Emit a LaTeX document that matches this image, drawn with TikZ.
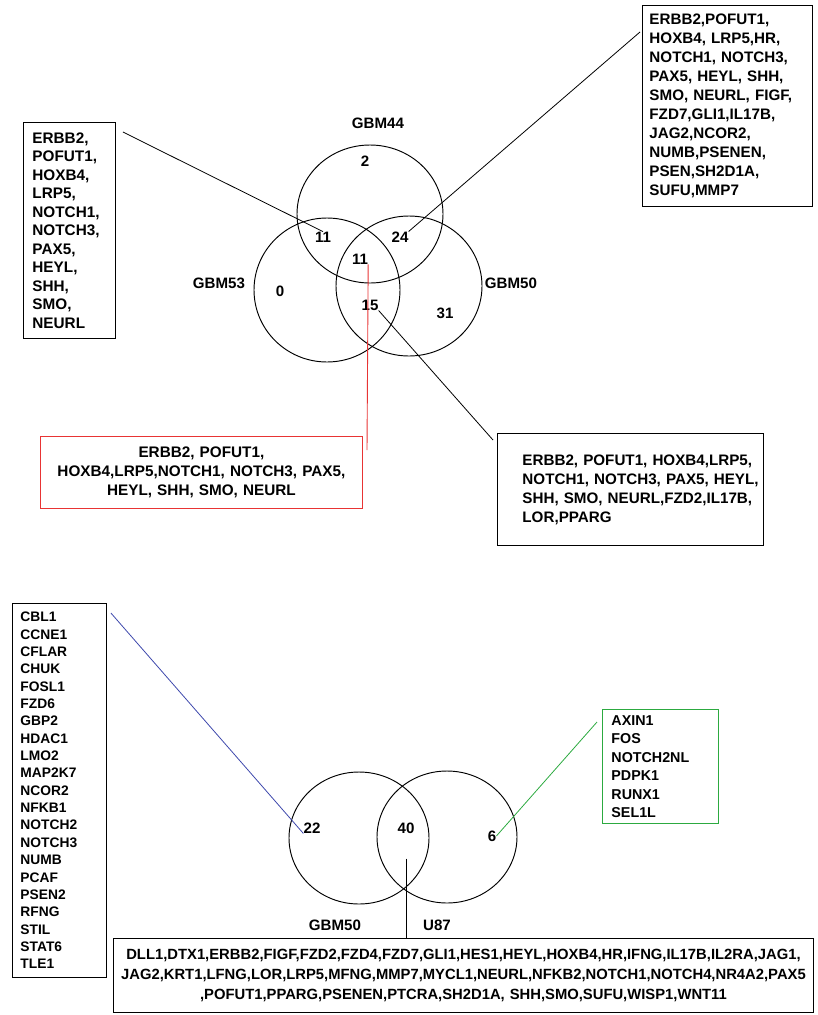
\documentclass[tikz,border=0pt]{standalone}
\usepackage{fontspec}
\setmainfont{Liberation Sans}
\usetikzlibrary{shapes.geometric}

\definecolor{vennred}{RGB}{232,52,52}
\definecolor{vennblue}{RGB}{62,72,172}
\definecolor{venngreen}{RGB}{44,170,64}
\newcommand{\genefont}[2]{\fontsize{#1}{#2}\selectfont\bfseries}

\tikzset{
  venn/.style={ellipse, draw, line width=0.95pt, inner sep=0pt},
  num/.style={inner sep=0pt},
  listbox/.style={draw, line width=0.9pt, inner sep=0pt, anchor=north west},
  genebox/.style={listbox, align=left, execute at begin node={\leftskip=#1}},
  midbox/.style={listbox, align=center},
  link/.style={line width=0.8pt},
}

\begin{document}
\begin{tikzpicture}[x=1pt, y=-1pt, font=\genefont{15.1}{18.5}]
\useasboundingbox (0,0) rectangle (817,1015);

% three sets
\node[venn, minimum width=146pt, minimum height=138pt] (g44) at (370,214) {};
\node[venn, minimum width=146pt, minimum height=144pt] (g53) at (327,290) {};
\node[venn, minimum width=146pt, minimum height=140pt] (g50) at (409,286) {};
\node (l44) at (378,123) {GBM44};
\node (l53) at (219,283) {GBM53};
\node (l50) at (511,283) {GBM50};
\node[num] (n2) at (365,161) {2};
\node[num] (n11l) at (323,237) {11};
\node[num] (n24) at (400,237) {24};
\node[num] (n11c) at (360,259) {11};
\node[num] (n0) at (280,291) {0};
\node[num] (n15) at (370,305) {15};
\node[num] (n31) at (445,313) {31};

\node[genebox=9pt, text width=92pt, minimum height=216pt, font=\genefont{15.3}{18.5}] (tlbox) at (23,122)
  {ERBB2,\\POFUT1,\\HOXB4,\\LRP5,\\NOTCH1,\\NOTCH3,\\PAX5,\\HEYL,\\SHH,\\SMO,\\NEURL};
\node[genebox=7pt, text width=170pt, minimum height=201pt,
  font=\genefont{15.2}{19}] (trbox) at (642,5)
  {ERBB2,POFUT1,\\HOXB4, LRP5,HR,\\NOTCH1, NOTCH3,\\PAX5, HEYL, SHH,\\SMO, NEURL, FIGF,\\
   FZD7,GLI1,IL17B,\\JAG2,NCOR2,\\NUMB,PSENEN,\\PSEN,SH2D1A,\\SUFU,MMP7};
\node[midbox, draw=vennred, text width=322pt, minimum height=72pt,
  font=\genefont{15.3}{19}] (redbox) at (40,436)
  {ERBB2, POFUT1,\\HOXB4,LRP5,NOTCH1, NOTCH3, PAX5,\\HEYL, SHH, SMO, NEURL};
\node[genebox=25pt, text width=266pt, minimum height=112pt,
  font=\genefont{15.2}{19}] (brbox) at (497,433)
  {ERBB2, POFUT1, HOXB4,LRP5,\\NOTCH1, NOTCH3, PAX5, HEYL,\\SHH, SMO, NEURL,FZD2,IL17B,\\LOR,PPARG};

\coordinate (redend) at (367,450);
\draw[link] ([xshift=7pt,yshift=-10pt]tlbox.north east) -- (n11l.north);
\draw[link] ([xshift=-2pt,yshift=-27pt]trbox.north west) -- (n24.north east);
\draw[link, vennred, line width=0.9pt] (n11c.south east) -- (redend);
\draw[link] (n15.south east) -- ([xshift=-4pt,yshift=-7pt]brbox.north west);

% two sets
\node[venn, minimum width=140pt, minimum height=132pt] (b50) at (359,838) {};
\node[venn, minimum width=140pt, minimum height=132pt] (u87) at (447,837) {};
\node (lb50) at (335,925) {GBM50};
\node (lu87) at (437,925) {U87};
\node[num] (n22) at (312,828) {22};
\node[num] (n40) at (406,828) {40};
\node[num] (n6) at (492,836) {6};

\node[genebox=8pt, text width=94pt, minimum height=374pt,
  font=\genefont{13.8}{17.35}] (bluebox) at (12,603)
  {CBL1\\CCNE1\\CFLAR\\CHUK\\FOSL1\\FZD6\\GBP2\\HDAC1\\LMO2\\MAP2K7\\NCOR2\\
   NFKB1\\NOTCH2\\NOTCH3\\NUMB\\PCAF\\PSEN2\\RFNG\\STIL\\STAT6\\TLE1};
\node[genebox=9pt, draw=venngreen, text width=116pt, minimum height=114pt,
  font=\genefont{14.3}{18.5}] (greenbox) at (602,709)
  {AXIN1\\FOS\\NOTCH2NL\\PDPK1\\RUNX1\\SEL1L};
\node[midbox, text width=700pt, minimum height=74pt,
  font=\genefont{14.8}{20}] (botbox) at (113,938)
  {DLL1,DTX1,ERBB2,FIGF,FZD2,FZD4,FZD7,GLI1,HES1,HEYL,HOXB4,HR,IFNG,IL17B,IL2RA,JAG1,\\
   JAG2,KRT1,LFNG,LOR,LRP5,MFNG,MMP7,MYCL1,NEURL,NFKB2,NOTCH1,NOTCH4,NR4A2,PAX5\\
   ,POFUT1,PPARG,PSENEN,PTCRA,SH2D1A, SHH,SMO,SUFU,WISP1,WNT11};

\draw[link, vennblue] ([xshift=4pt,yshift=-10pt]bluebox.north east) -- (n22.south west);
\draw[link, venngreen] ([xshift=-5pt,yshift=-13pt]greenbox.north west) -- (n6.east);
\draw[link] ([yshift=-25pt]n40.south) -- (n40.south |- botbox.north);
\end{tikzpicture}
\end{document}
